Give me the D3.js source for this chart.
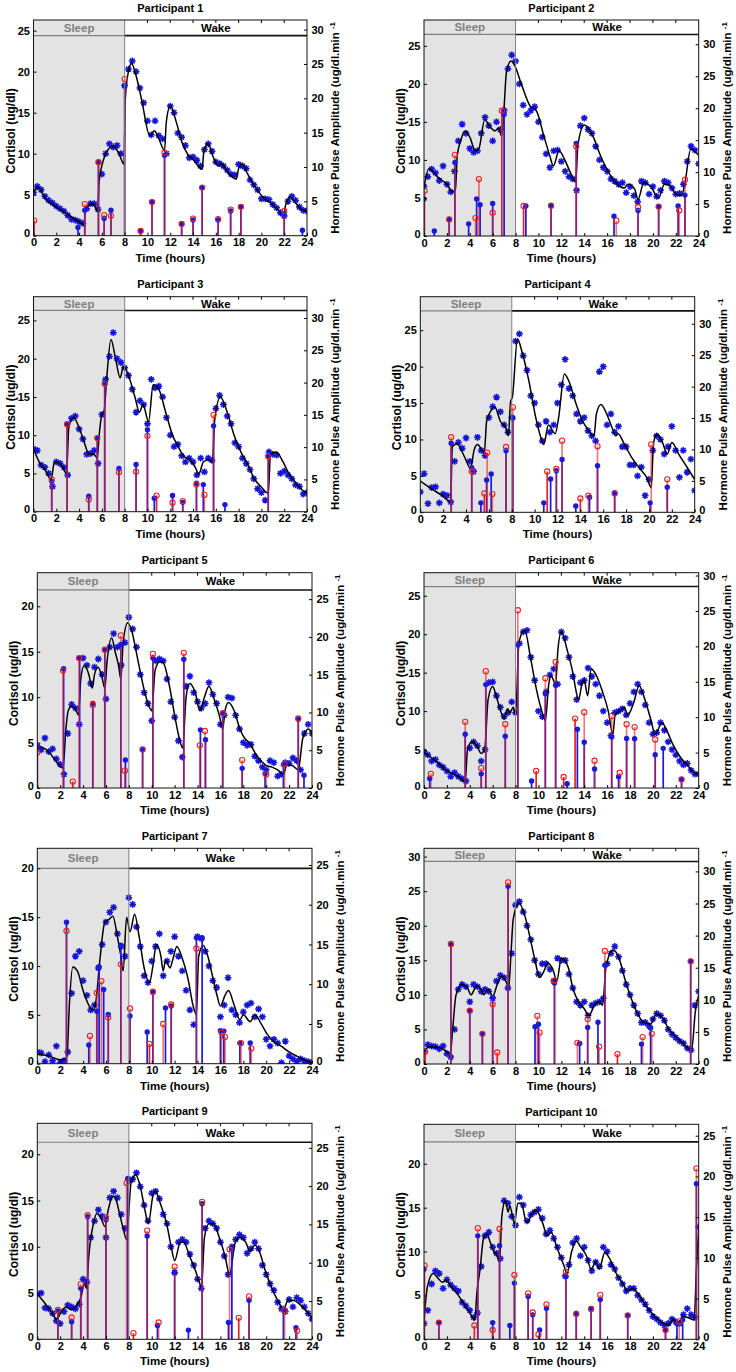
<!DOCTYPE html>
<html><head><meta charset="utf-8">
<script src="https://cdn.jsdelivr.net/npm/d3@7"></script>
<style>body{margin:0;background:#fff;} svg text{font-family:"Liberation Sans",Arial,Helvetica,sans-serif;font-weight:bold;}</style>
</head><body><svg id="c" width="736" height="1372"></svg>
<script>
// ---------------- DATA ----------------
const sampleStep = 1/3; // hours between cortisol samples (t = 0 .. 24)
const xTicks = [0,2,4,6,8,10,12,14,16,18,20,22,24];
const titles = ["Participant 1","Participant 2","Participant 3","Participant 4","Participant 5",
                "Participant 6","Participant 7","Participant 8","Participant 9","Participant 10"];
const leftTop   = [26.3,28.4,28.1,29.6,23.7,28.0,22.05,31.2,23.35,24.5];
const bandLevel = [24.4,26.5,26.3,27.65,21.8,26.2,20.0,29.3,21.3,22.5];
const rightTop  = [31.4,33.8,33.3,34.3,28.5,30.4,27.1,33.6,28.2,26.4];

// cortisol samples (ug/dl), blue stars
const cort1 = [5.3,6.0,5.6, 4.8,4.3,4.0, 3.6,3.3,3.0, 2.5,2.0,1.9, 1.7,1.5,3.3, 3.9,3.9,3.2, 7.5,10.0,11.2, 10.8,11.0,10.0,
  18.3,20.3,21.3, 20.0,18.0,16.2, 14.0,12.3,14.0, 12.2,11.8,10.0, 15.8,15.0,12.5, 12.0,11.0,9.5, 9.6,9.2,8.5, 10.5,11.2,10.3,
  9.0,8.8,8.5, 8.0,7.5,7.4, 8.7,8.5,8.2, 6.8,6.2,5.6, 4.5,4.5,4.4, 3.8,3.4,2.8, 2.4,4.2,4.8, 4.3,3.5,3.1, 3.0];
const cort2 = [6.5,7.8,8.8, 8.3,7.3,9.2, 6.8,5.8,8.5, 12.5,14.7,13.5, 11.5,11.0,11.2, 13.5,15.6,14.5, 12.5,15.0,14.0, 16.5,22.0,23.8,
  23.0,20.0,17.2, 16.0,16.5,17.0, 15.0,13.0,10.8, 9.0,11.2,11.3, 9.8,8.5,7.8, 7.5,6.0,14.5, 15.5,14.0,13.5, 11.8,10.0,9.0,
  8.5,7.5,7.2, 6.8,7.0,5.7, 6.5,5.3,4.5, 7.2,7.0,5.5, 6.5,5.2,6.0, 7.2,7.0,6.3, 5.5,5.6,6.8, 9.8,11.8,11.3, 9.5];
const cort3 = [8.2,8.0,6.1, 5.8,5.0,3.3, 6.5,6.3,5.8, 4.8,12.2,12.5, 10.8,9.5,7.5, 7.6,8.0,6.3, 12.7,17.3,20.3, 23.4,20.0,19.5,
  18.8,17.8,16.0, 13.0,14.5,14.0, 11.5,17.3,16.2, 16.4,15.0,12.3, 10.0,8.5,8.8, 7.3,6.5,7.0, 6.5,4.8,7.0, 5.2,7.0,6.7,
  13.5,15.2,14.0, 12.5,11.5,9.0, 8.5,7.0,6.3, 5.5,4.3,3.0, 2.5,1.5,7.8, 7.5,7.4,5.0, 5.3,4.8,4.3, 3.5,3.3,2.3, 2.5];
const cort4 = [2.8,5.3,1.2, 3.4,3.5,1.3, 2.5,2.3,1.4, 7.0,9.6,8.8, 10.2,7.0,5.6, 10.3,8.5,7.8, 13.0,14.5,15.8, 13.8,12.0,11.0,
  13.0,23.5,24.5, 21.5,19.5,16.0, 15.0,12.0,9.8, 12.5,11.0,12.0, 15.0,17.5,21.0, 17.0,16.0,13.5, 12.5,13.0,11.2, 10.5,9.8,19.3,
  20.0,12.0,13.5, 11.0,11.8,9.0, 9.0,6.5,6.5, 5.0,6.2,2.3, 4.5,8.5,10.5, 10.0,8.0,9.0, 11.8,8.5,4.8, 8.5,5.5,7.3, 3.0];
const cort5 = [4.6,4.2,5.5, 4.0,4.3,3.2, 2.6,1.5,6.0, 9.2,8.8,7.0, 14.3,13.5,11.5, 13.3,14.2,12.5, 9.8,15.5,17.0, 15.5,13.5,16.0,
  18.8,17.5,15.5, 12.5,10.5,9.3, 7.4,14.0,14.2, 14.0,12.0,9.5, 7.8,5.2,3.4, 11.2,12.3,10.5, 9.5,8.8,9.3, 11.6,10.3,9.3,
  7.0,8.0,10.0, 9.9,8.0,6.5, 5.0,4.7,4.8, 3.5,3.0,2.3, 2.0,3.0,2.8, 1.3,1.5,2.8, 2.7,3.3,3.0, 2.0,6.0,7.0, 6.0];
const cort6 = [4.7,4.3,3.5, 3.7,3.0,2.7, 2.2,1.5,2.0, 1.5,1.2,0.9, 5.2,6.0,5.5, 3.5,5.0,13.7, 13.8,12.0,10.5, 9.3,9.8,11.2,
  9.8,18.8,20.3, 20.5,17.0,14.0, 10.0,9.3,12.5, 14.7,15.5,13.5, 20.3,19.5,17.0, 14.5,11.5,13.7, 14.0,15.6,14.5, 13.5,12.0,10.0,
  8.5,6.8,9.8, 10.0,10.3,9.5, 11.0,12.5,13.5, 12.5,10.8,8.5, 7.0,7.2,8.5, 7.5,6.0,5.0, 4.3,3.5,3.0, 3.2,2.3,1.8, 1.8];
const cort7 = [1.2,1.1,0.2, 0.9,0.3,1.8, 0.1,0.3,1.2, 7.2,11.0,11.5, 8.5,7.0,5.5, 6.0,9.8,12.2, 14.5,15.5,16.0, 13.3,12.0,11.0,
  17.0,16.3,14.0, 12.0,9.0,8.3, 10.5,12.0,13.3, 9.0,10.5,11.5, 13.0,11.0,9.5, 7.5,5.5,4.0, 13.0,12.8,11.5, 10.0,8.5,7.8,
  4.8,6.0,8.8, 5.5,5.0,4.2, 5.3,6.0,6.2, 4.8,5.6,4.8, 2.5,1.8,2.5, 2.1,0.1,2.3, 0.8,0.5,0.2, 0.5,0.3,0.2, 0.1];
const cort8 = [1.8,2.8,2.6, 2.5,2.2,2.6, 1.5,1.0,5.0, 10.8,11.5,11.2, 9.0,11.5,11.2, 10.5,10.8,10.5, 9.5,12.0,12.8, 12.5,11.0,16.0,
  23.0,23.5,22.0, 20.0,18.0,15.0, 13.0,14.5,14.5, 13.7,12.0,15.3, 15.0,15.0,13.0, 11.0,9.0,8.5, 9.0,7.0,8.5, 8.8,9.0,9.5,
  14.5,16.0,17.0, 15.5,13.5,11.5, 10.0,8.5,7.3, 6.0,6.0,5.5, 6.5,7.3,7.0, 6.3,5.0,4.3, 3.8,3.3,3.0, 2.3,2.0,8.5, 10.5];
const cort9 = [4.9,5.0,3.4, 3.3,2.8,2.0, 1.7,3.0,3.7, 3.5,3.3,3.8, 6.5,6.2,11.0, 12.8,14.0,13.3, 11.0,15.3,16.0, 15.3,13.5,12.0,
  17.2,17.3,18.0, 16.5,14.5,12.8, 15.8,16.0,15.2, 13.5,12.5,10.0, 7.2,10.5,10.8, 10.5,9.2,8.0, 6.5,5.5,12.0, 12.8,12.5,12.0,
  10.5,9.0,7.0, 10.0,10.8,11.3, 11.0,9.3,9.8, 10.5,9.8,8.0, 7.0,6.0,5.3, 4.0,3.3,3.0, 4.3,3.5,4.5, 4.2,3.5,2.8, 2.2];
const cort10 = [1.8,3.3,6.3, 7.8,7.5,5.8, 6.8,6.2,5.8, 5.5,4.2,3.8, 3.3,2.5,3.0, 8.3,11.8,12.2, 10.5,9.8,9.2, 15.8,15.5,14.0,
  13.0,16.2,15.3, 13.5,14.2,14.5, 14.8,13.8,12.0, 12.4,11.5,10.5, 9.3,7.2,8.5, 11.0,11.5,9.5, 10.5,9.0,7.8, 8.8,8.3,10.5,
  10.0,8.5,8.0, 7.0,6.3,5.5, 5.8,5.8,5.0, 4.5,4.0,3.3, 2.6,2.3,1.9, 1.6,1.8,2.3, 2.0,1.8,2.8, 3.5,2.8,2.5, 12.8];

// fitted cortisol profile [hour, ug/dl], black line
const fit1 = [[0,5.3],[0.4,5.9],[1,4.6],[2,3.5],[3,2.6],[4,1.7],[4.45,1.3],[4.55,3.4],[5.2,3.9],[5.65,3.0],[5.75,6.5],[6.2,9.5],[6.6,10.6],[7.0,10.9],[7.5,10.0],[7.95,8.7],[8.05,16.5],[8.3,19.8],[8.6,21.0],[9.0,19.5],[9.5,16.5],[10.2,12.2],[10.6,12.8],[11.0,11.8],[11.5,10.4],[11.65,13.8],[12.0,15.8],[12.5,14.0],[13.0,11.5],[13.5,10.0],[14.0,9.3],[14.8,8.1],[14.95,10.3],[15.3,11.2],[15.8,9.5],[16.2,8.5],[16.5,8.8],[17.0,7.8],[17.8,6.9],[18.0,8.2],[18.3,8.7],[18.8,7.5],[19.3,6.3],[20.2,4.6],[21.0,3.8],[22.0,2.6],[22.1,3.6],[22.5,4.7],[23.0,4.0],[23.5,3.2],[24,3.0]];
const fit2 = [[0,6.3],[0.4,8.8],[1.3,7.6],[2.0,6.8],[2.5,5.8],[2.75,6.2],[2.9,10.5],[3.2,12.5],[3.6,13.8],[4.0,13.0],[4.5,11.2],[4.8,11.5],[5.3,15.3],[5.8,14.3],[6.2,13.8],[6.5,14.2],[6.8,13.1],[7.0,17],[7.2,21.5],[7.6,23.0],[7.9,22.5],[8.5,20.0],[9.3,17.0],[9.8,16.5],[10.5,13.0],[11.0,10.5],[11.3,9.2],[11.8,11.2],[12.3,10.0],[12.8,8.3],[13.25,7.1],[13.45,12.0],[14.0,14.6],[14.8,13.0],[15.3,11.0],[16.0,8.7],[16.6,7.3],[17.5,6.3],[17.8,6.8],[18.4,6.2],[18.7,4.8],[19.2,7.0],[19.8,6.5],[20.5,5.0],[21.0,6.8],[21.5,6.6],[22.0,5.5],[22.5,5.3],[22.8,7.0],[23.3,11.4],[24,10.6]];
const fit3 = [[0,8.2],[0.7,6.0],[1.0,5.5],[1.55,4.2],[1.8,6.3],[2.0,6.5],[2.5,6.0],[2.9,5.0],[3.1,11.0],[3.5,12.3],[4.0,11.0],[4.4,9.3],[4.9,7.5],[5.3,7.5],[5.6,7.0],[5.75,9.8],[6.0,12.7],[6.2,13.2],[6.4,17.0],[6.8,22.5],[7.2,20.0],[7.6,17.5],[7.9,19.0],[8.4,17.5],[8.9,15.0],[9.3,13.0],[9.6,14.0],[10.1,11.8],[10.5,16.6],[11.0,16.0],[11.6,13.0],[12.2,10.0],[12.7,8.5],[13.2,7.2],[13.7,6.8],[14.2,5.8],[14.5,4.9],[14.9,6.5],[15.3,6.8],[15.7,6.5],[15.9,12.0],[16.4,15.0],[17.0,13.0],[17.6,10.0],[18.3,7.5],[18.8,6.2],[19.3,4.5],[20.0,3.2],[20.6,2.4],[20.8,7.5],[21.3,7.8],[21.9,6.5],[22.4,5.0],[23.0,3.8],[23.6,2.8],[24,2.4]];
const fit4 = [[0,4.3],[1,3.2],[2,2.2],[2.65,1.4],[2.8,9.0],[3.2,9.4],[3.9,7.5],[4.4,6.0],[4.7,8.5],[5.0,9.3],[5.6,8.2],[5.8,12.5],[6.2,14.0],[6.5,14.5],[7.0,12.5],[7.5,11.5],[7.7,10.5],[7.9,15.2],[8.05,15.8],[8.5,23.8],[8.9,22.0],[9.5,18.0],[10.1,13.0],[10.6,10.0],[10.8,9.3],[11.2,12.0],[11.8,10.8],[12.1,13.0],[12.6,19.0],[13.0,18.0],[13.6,15.0],[14.2,12.5],[14.6,11.5],[15.2,10.5],[15.4,13.5],[15.8,14.8],[16.3,13.5],[16.8,11.5],[17.1,10.5],[17.3,10.8],[17.8,9.5],[18.5,7.5],[19.2,6.0],[19.8,4.8],[20.2,3.4],[20.4,9.5],[20.7,10.7],[21.2,9.5],[21.6,8.0],[22.0,9.6],[22.6,8.0],[23.2,6.5],[24,4.5]];
const fit5 = [[0,4.6],[0.4,4.5],[1.0,4.0],[1.6,3.0],[2.25,2.2],[2.5,6.5],[2.7,8.5],[3.0,9.0],[3.4,8.5],[3.6,8.0],[3.8,12.0],[4.1,13.5],[4.5,12.5],[4.8,11.0],[5.0,12.5],[5.3,13.3],[5.6,12.5],[5.9,11.0],[6.1,14.0],[6.5,16.5],[6.8,15.0],[7.1,13.5],[7.3,12.0],[7.5,16.0],[7.9,18.2],[8.2,17.5],[8.8,14.0],[9.3,11.0],[9.7,9.2],[10.0,8.5],[10.3,13.0],[10.7,13.9],[11.0,13.8],[11.5,11.5],[12.0,8.0],[12.4,5.5],[12.7,4.4],[13.0,10.0],[13.3,11.5],[13.8,10.5],[14.2,8.5],[14.6,10.0],[15.0,11.2],[15.4,10.0],[15.9,8.0],[16.2,6.5],[16.4,8.5],[16.7,9.4],[17.2,8.5],[17.7,6.5],[18.1,5.5],[18.5,5.0],[19.2,3.5],[20.0,2.5],[20.5,2.3],[21.0,2.0],[21.5,1.5],[21.8,2.5],[22.2,2.5],[22.8,2.0],[23.2,5.5],[23.7,6.5],[24,6.0]];
const fit6 = [[0,4.6],[0.6,4.0],[1.2,3.3],[1.8,2.5],[2.3,2.0],[3.0,1.5],[3.6,0.8],[3.8,5.0],[4.2,6.0],[4.6,5.5],[5.0,4.5],[5.3,5.0],[5.6,11.5],[6.0,13.2],[6.3,12.0],[6.7,10.0],[7.0,9.0],[7.3,10.3],[7.5,9.8],[7.8,10.5],[8.0,9.5],[8.3,19.0],[8.8,20.5],[9.3,17.0],[9.8,13.0],[10.2,10.5],[10.6,8.8],[10.9,13.5],[11.1,14.6],[11.5,13.5],[11.7,18.0],[12.0,20.3],[12.5,18.0],[13.0,15.0],[13.3,12.5],[13.5,11.5],[13.8,13.5],[14.0,14.0],[14.3,12.0],[14.6,15.5],[15.1,14.5],[15.6,12.5],[16.1,10.0],[16.5,7.0],[16.7,9.5],[17.1,10.0],[17.5,10.5],[17.8,9.5],[18.3,11.0],[18.8,13.3],[19.3,11.5],[19.8,9.0],[20.2,7.0],[20.8,8.5],[21.2,7.5],[21.8,5.5],[22.4,4.0],[23.0,3.0],[23.6,2.0],[24,1.8]];
const fit7 = [[0,1.0],[1.0,0.8],[2.0,0.4],[2.5,0.5],[2.6,0.8],[2.8,6.0],[3.1,9.9],[3.5,9.5],[4.0,7.5],[4.5,6.0],[4.9,5.5],[5.1,6.2],[5.5,11.0],[5.9,14.5],[6.3,14.8],[6.6,15.1],[7.0,13.0],[7.3,11.0],[7.5,9.5],[7.8,15.0],[8.1,13.5],[8.5,15.3],[8.9,13.0],[9.3,10.0],[9.8,8.3],[10.1,10.0],[10.4,12.2],[10.8,11.0],[11.0,9.5],[11.2,10.6],[11.6,9.8],[11.8,10.5],[12.2,12.0],[12.6,11.0],[13.2,8.5],[13.6,6.0],[13.9,5.0],[14.1,11.0],[14.5,12.1],[14.9,11.0],[15.3,9.0],[15.7,7.0],[16.0,5.9],[16.4,7.0],[16.7,7.5],[17.2,6.0],[17.7,4.5],[18.0,5.0],[18.6,4.3],[19.0,5.0],[19.6,4.0],[20.1,3.0],[20.6,2.3],[21.3,1.8],[22.0,1.2],[22.8,0.7],[23.5,0.3],[24,0.1]];
const fit8 = [[0,1.9],[0.5,2.5],[1.3,2.4],[1.8,2.0],[2.3,1.5],[2.5,5.0],[2.8,10.0],[3.3,11.5],[3.8,11.0],[4.1,10.0],[4.6,11.3],[5.0,10.8],[5.2,10.0],[5.6,10.8],[6.0,9.8],[6.4,11.5],[6.8,12.7],[7.2,11.8],[7.4,11.0],[7.6,16.0],[7.8,21.0],[8.3,23.3],[8.8,21.5],[9.3,18.0],[9.7,15.0],[10.1,12.5],[10.5,13.5],[10.8,14.6],[11.3,13.5],[11.6,12.0],[12.0,15.3],[12.6,14.0],[13.0,11.0],[13.5,9.0],[14.0,8.0],[14.4,7.0],[14.9,8.5],[15.3,9.0],[15.6,8.5],[15.9,14.0],[16.5,16.5],[17.0,15.5],[17.6,12.0],[18.1,9.5],[18.6,7.5],[19.2,6.0],[19.8,5.8],[20.3,7.2],[20.8,6.8],[21.4,5.0],[22.0,4.0],[22.6,3.0],[23.2,2.2],[23.4,2.3],[23.7,7.5],[24,10.0]];
const fit9 = [[0,4.9],[0.6,4.0],[1.2,3.0],[1.7,2.2],[2.1,3.0],[2.5,3.5],[3.0,3.2],[3.5,3.8],[3.8,4.5],[4.1,6.0],[4.3,5.5],[4.5,9.0],[4.9,12.5],[5.2,13.6],[5.6,13.0],[5.9,12.2],[6.2,14.0],[6.6,15.5],[6.9,15.0],[7.2,13.5],[7.5,12.0],[7.8,10.8],[8.2,17.0],[8.6,17.8],[9.0,16.5],[9.4,14.0],[9.7,12.5],[10.1,15.5],[10.3,16.0],[10.8,14.5],[11.3,12.5],[11.7,10.0],[12.0,8.5],[12.5,10.5],[12.8,10.5],[13.3,9.0],[13.8,7.5],[14.2,6.0],[14.35,5.5],[14.6,11.0],[15.0,12.5],[15.4,12.5],[15.9,11.0],[16.4,9.0],[16.8,7.0],[17.3,10.5],[17.7,11.0],[18.2,10.5],[18.6,9.5],[19.0,10.2],[19.4,9.5],[19.9,7.5],[20.5,5.5],[21.1,4.0],[21.5,3.2],[21.9,4.2],[22.4,4.2],[22.9,3.8],[23.4,3.2],[24,2.3]];
const fit10 = [[0,2.0],[0.3,6.0],[0.8,7.5],[1.2,7.0],[1.6,6.5],[1.9,6.7],[2.4,6.0],[3.0,5.0],[3.5,4.0],[4.0,3.0],[4.45,2.2],[4.6,5.0],[4.9,8.0],[5.2,11.5],[5.5,12.0],[5.8,11.0],[6.1,10.0],[6.4,9.5],[6.6,8.8],[6.8,14.0],[7.1,15.8],[7.35,14.5],[7.5,15.2],[7.9,13.2],[8.2,15.5],[8.5,15.5],[8.9,13.5],[9.05,13.3],[9.4,14.3],[9.8,14.7],[10.3,13.5],[10.8,11.8],[11.1,12.2],[11.6,10.5],[12.2,8.5],[12.5,7.5],[12.9,10.0],[13.3,11.2],[13.7,10.5],[14.2,9.5],[14.6,8.0],[15.0,8.8],[15.3,8.0],[15.8,9.9],[16.3,9.0],[16.8,7.5],[17.4,6.3],[17.8,5.5],[18.2,5.8],[18.7,5.2],[19.3,4.0],[19.9,3.0],[20.5,2.2],[21.0,1.8],[21.4,1.6],[21.8,2.3],[22.2,1.7],[22.6,2.6],[23.2,2.4],[23.6,2.2],[23.8,8.0],[24,12.5]];

// pulse amplitudes [hour, ug/dl.min-1]: red open circles
const red1 = [[0.05,2.2],[4.5,4.6],[5.7,10.7],[6.2,3.0],[6.8,2.9],[8.0,22.8],[9.4,0.7],[10.4,4.9],[11.5,12.1],[13.0,1.7],[14.0,2.5],[14.8,7.0],[16.2,2.4],[17.3,3.8],[18.2,4.2],[22.0,3.6]];
const red2 = [[0.05,7.1],[2.2,2.6],[2.7,12.7],[4.5,2.8],[4.8,8.9],[6.0,3.65],[6.8,19.6],[8.7,4.7],[11.1,4.75],[13.3,14.0],[16.8,2.4],[18.7,4.5],[20.5,4.6],[22.3,4.0],[22.8,8.8]];
const red3 = [[1.6,5.0],[2.95,13.55],[4.85,1.9],[5.6,11.4],[6.25,19.8],[7.5,6.1],[9.0,6.2],[10.0,11.75],[10.8,2.5],[12.2,1.4],[13.1,1.65],[14.3,4.2],[15.0,2.6],[15.8,15.0],[20.6,8.6]];
const red4 = [[2.7,11.95],[4.5,6.5],[5.6,3.0],[5.85,9.5],[6.3,2.9],[7.5,10.4],[8.1,16.7],[11.1,6.5],[11.9,6.9],[12.4,11.4],[14.0,2.2],[14.7,2.65],[15.5,10.5],[17.0,3.0],[20.2,10.8],[21.6,5.25]];
const red5 = [[0.0,4.7],[2.25,15.55],[3.1,0.85],[3.65,17.2],[4.85,11.0],[5.9,18.3],[7.3,20.2],[7.65,2.3],[9.2,5.1],[10.1,17.75],[12.8,17.9],[14.2,5.65],[14.65,7.55],[16.2,9.9],[17.9,3.7],[20.0,1.8],[21.6,3.2],[22.8,9.2]];
const red6 = [[0.6,2.0],[3.6,9.35],[5.0,2.8],[5.4,16.5],[7.1,9.0],[8.2,25.1],[9.8,2.4],[10.6,15.5],[11.5,17.8],[12.2,1.55],[13.2,9.8],[14.0,10.7],[14.9,3.85],[16.4,10.15],[17.1,2.15],[17.7,9.0],[18.4,8.6],[20.2,6.85],[22.5,1.2]];
const red7 = [[2.55,16.7],[4.6,3.5],[5.2,8.9],[5.6,10.4],[6.2,5.8],[7.3,12.5],[8.1,6.95],[9.8,2.5],[10.1,9.05],[11.0,5.0],[11.7,7.45],[13.9,14.5],[16.1,3.95],[16.4,3.35],[17.8,2.6],[18.7,1.9]];
const red8 = [[0.1,1.9],[2.35,18.7],[4.0,8.3],[5.1,4.7],[6.0,9.3],[6.4,1.8],[7.35,28.3],[9.9,7.5],[10.1,4.9],[11.4,13.0],[13.4,3.3],[14.3,7.0],[15.3,2.7],[15.8,17.6],[16.9,1.55],[19.1,4.2],[19.9,4.7],[23.3,16.0]];
const red9 = [[1.8,3.85],[3.0,2.85],[3.8,7.2],[4.4,16.2],[6.0,15.9],[7.8,20.4],[8.4,0.8],[9.6,14.2],[10.6,2.2],[12.0,9.5],[14.4,17.95],[16.8,11.75],[17.6,2.8],[18.5,5.6],[21.6,3.8],[22.7,1.1]];
const red10 = [[0.05,9.05],[1.3,2.05],[4.4,1.7],[4.7,13.65],[6.0,1.15],[6.6,13.55],[7.9,7.9],[9.1,5.65],[9.5,3.3],[10.0,0.6],[10.7,4.3],[12.4,8.3],[13.3,3.1],[14.6,3.7],[15.4,5.45],[17.8,2.95],[21.1,1.15],[22.3,2.2],[23.8,21.0]];

// pulse amplitudes [hour, ug/dl.min-1]: blue filled dots
const blue1 = [[3.9,1.2],[4.5,3.7],[5.7,10.7],[6.2,2.5],[6.8,3.7],[8.0,21.8],[9.4,0.7],[10.4,4.9],[11.5,11.7],[13.0,1.7],[14.0,2.3],[14.8,7.0],[16.2,2.3],[17.3,3.6],[18.2,4.2],[22.0,3.2],[23.6,0.8]];
const blue2 = [[0.0,5.8],[0.9,0.8],[2.2,2.6],[2.7,11.5],[3.9,1.9],[4.6,5.8],[4.9,4.9],[6.0,5.1],[7.0,19.0],[8.9,4.7],[11.1,4.75],[13.3,14.5],[16.6,3.1],[18.7,4.0],[20.5,4.6],[22.2,4.7],[22.8,6.4]];
const blue3 = [[1.6,4.7],[2.95,13.55],[4.85,2.4],[5.6,11.4],[6.25,20.0],[7.5,6.7],[9.0,7.3],[10.0,12.7],[10.6,2.1],[12.2,2.5],[13.1,1.45],[14.3,4.4],[14.9,4.2],[15.8,13.3],[16.8,1.1],[20.6,8.5]];
const blue4 = [[2.7,11.0],[4.5,7.1],[5.3,1.5],[5.8,5.15],[6.2,6.1],[7.5,9.8],[8.1,15.0],[10.8,1.5],[11.4,5.3],[11.9,6.6],[12.4,8.4],[13.6,1.0],[14.8,2.4],[15.5,7.4],[17.0,3.1],[20.1,1.5],[21.6,4.0]];
const blue5 = [[0.0,5.5],[2.3,15.8],[3.7,17.2],[4.85,11.2],[5.9,18.3],[7.3,19.0],[7.7,3.7],[9.2,5.1],[10.1,17.2],[12.8,17.05],[14.25,7.7],[14.7,6.4],[16.2,9.9],[17.9,2.6],[19.9,1.9],[21.5,3.1],[22.8,9.1],[23.3,1.7]];
const blue6 = [[0.5,1.35],[3.6,7.6],[5.0,2.0],[5.4,14.6],[7.1,7.3],[8.2,20.2],[9.4,1.0],[10.6,13.3],[11.5,14.5],[12.5,0.6],[13.4,8.3],[14.0,6.45],[14.9,2.7],[16.4,7.2],[17.0,1.6],[17.7,7.0],[18.4,6.95],[20.2,4.7],[20.9,5.6],[22.5,1.2]];
const blue7 = [[2.55,17.8],[4.5,2.35],[5.2,6.6],[5.4,12.2],[5.8,9.35],[6.2,6.2],[7.3,14.9],[8.1,6.0],[9.6,4.0],[10.1,9.0],[11.2,7.0],[11.7,7.25],[13.9,15.85],[14.4,15.85],[16.0,4.15],[16.3,4.1],[17.7,2.6],[18.6,2.6]];
const blue8 = [[2.35,18.6],[4.0,8.3],[5.1,4.7],[6.0,10.35],[7.35,27.7],[9.7,5.8],[10.0,6.2],[11.4,12.6],[13.6,3.2],[14.3,5.7],[15.2,6.5],[15.8,15.4],[19.0,3.1],[19.8,5.6],[23.3,16.0]];
const blue9 = [[1.8,3.7],[3.0,2.3],[3.8,6.65],[4.4,16.0],[6.0,15.6],[7.9,21.0],[9.6,13.5],[10.5,1.8],[12.0,8.8],[13.2,1.2],[14.4,17.7],[16.7,2.2],[17.0,11.75],[18.5,5.1],[21.5,3.8],[22.6,1.5]];
const blue10 = [[0.0,8.6],[1.3,2.05],[4.7,12.7],[6.0,2.05],[6.6,11.5],[7.5,1.7],[7.9,6.9],[9.1,5.25],[9.5,3.0],[10.1,1.15],[10.7,3.8],[12.4,7.7],[13.3,3.2],[14.6,3.8],[15.4,4.9],[17.8,2.9],[21.1,1.15],[22.1,1.9],[22.6,2.4],[23.8,19.1]];

const participants = [
  {cort:cort1, fit:fit1, red:red1, blue:blue1},
  {cort:cort2, fit:fit2, red:red2, blue:blue2},
  {cort:cort3, fit:fit3, red:red3, blue:blue3},
  {cort:cort4, fit:fit4, red:red4, blue:blue4},
  {cort:cort5, fit:fit5, red:red5, blue:blue5},
  {cort:cort6, fit:fit6, red:red6, blue:blue6},
  {cort:cort7, fit:fit7, red:red7, blue:blue7},
  {cort:cort8, fit:fit8, red:red8, blue:blue8},
  {cort:cort9, fit:fit9, red:red9, blue:blue9},
  {cort:cort10, fit:fit10, red:red10, blue:blue10}
];

// ---------------- LAYOUT ----------------
// plot boxes [x0, x1, y0, y1]
const boxes = [
  [33.5,307,20,235.7],[424,698.7,20,236],
  [33.5,307,296.7,511.7],[420.3,694.7,296.7,512.3],
  [37.3,312,572.7,788],[424,698.7,572.7,788],
  [37.3,312,848.3,1063.7],[424,698.7,848.3,1064],
  [37.3,312,1123.3,1339.3],[424,698.7,1124.3,1339.3]
];
const C_STAR = "#1414d6", C_BLUE = "#1a1ad8", C_RED = "#e62222";

const svg = d3.select("#c");

participants.forEach((p, i) => {
  const [x0,x1,y0,y1] = boxes[i];
  const x = d3.scaleLinear().domain([0,24]).range([x0,x1]);
  const yL = d3.scaleLinear().domain([0,leftTop[i]]).range([y1,y0]);
  const yR = d3.scaleLinear().domain([0,rightTop[i]]).range([y1,y0]);
  const g = svg.append("g");
  const yb = yL(bandLevel[i]);

  // sleep shading
  g.append("rect").attr("x",x(0)).attr("y",y0).attr("width",x(8)-x(0)).attr("height",y1-y0).attr("fill","#e3e3e3");

  const cid = "clip"+i;
  g.append("clipPath").attr("id",cid).append("rect").attr("x",x0).attr("y",y0).attr("width",x1-x0).attr("height",y1-y0);
  const dg = g.append("g").attr("clip-path",`url(#${cid})`);

  // stars
  const r=3.4, k=2.4;
  const starD = `M${-r},0H${r}M0,${-r}V${r}M${-k},${-k}L${k},${k}M${-k},${k}L${k},${-k}`;
  dg.selectAll("path.star").data(p.cort).join("path").attr("class","star")
    .attr("d",starD).attr("transform",(v,j)=>`translate(${x(j*sampleStep)},${yL(v)})`)
    .attr("stroke",C_STAR).attr("stroke-width",1.5).attr("fill","none");

  // fitted line
  dg.append("path").datum(p.fit)
    .attr("d", d3.line().x(d=>x(d[0])).y(d=>yL(d[1])).curve(d3.curveMonotoneX))
    .attr("fill","none").attr("stroke","#000").attr("stroke-width",1.5);

  // blue stems
  dg.selectAll("line.bs").data(p.blue).join("line").attr("class","bs")
    .attr("x1",d=>x(d[0])).attr("x2",d=>x(d[0])).attr("y1",yR(0)).attr("y2",d=>yR(d[1]))
    .attr("stroke",C_BLUE).attr("stroke-width",1.7);
  // red stems
  dg.selectAll("line.rs").data(p.red).join("line").attr("class","rs")
    .attr("x1",d=>x(d[0])).attr("x2",d=>x(d[0])).attr("y1",yR(0)).attr("y2",d=>yR(d[1]))
    .attr("stroke",C_RED).attr("stroke-width",1.7)
    .attr("stroke-opacity",d=>p.blue.some(b=>Math.abs(b[0]-d[0])<0.2)?0.6:1);
  // blue dots
  dg.selectAll("circle.bd").data(p.blue).join("circle").attr("class","bd")
    .attr("cx",d=>x(d[0])).attr("cy",d=>yR(d[1])).attr("r",2.7).attr("fill",C_BLUE);
  // red circles
  dg.selectAll("circle.rc").data(p.red).join("circle").attr("class","rc")
    .attr("cx",d=>x(d[0])).attr("cy",d=>yR(d[1])).attr("r",2.6).attr("fill","none")
    .attr("stroke",C_RED).attr("stroke-width",1.1);

  // sleep / wake strip
  g.append("line").attr("x1",x0).attr("x2",x(8)).attr("y1",yb).attr("y2",yb).attr("stroke","#808080").attr("stroke-width",1.2);
  g.append("line").attr("x1",x(8)).attr("x2",x1).attr("y1",yb).attr("y2",yb).attr("stroke","#111").attr("stroke-width",1.6);
  g.append("line").attr("x1",x(8)).attr("x2",x(8)).attr("y1",y0).attr("y2",y1).attr("stroke","#808080").attr("stroke-width",1);
  g.append("text").attr("x",(x(0)+x(8))/2).attr("y",(y0+yb)/2+4).attr("text-anchor","middle")
    .attr("font-size",11.5).attr("fill","#808080").text("Sleep");
  g.append("text").attr("x",(x(8)+x(24))/2).attr("y",(y0+yb)/2+4).attr("text-anchor","middle")
    .attr("font-size",11.5).attr("fill","#000").text("Wake");

  // axes
  const styleAxis = sel => {
    sel.attr("font-family",null);
    sel.select("path.domain").remove();
    sel.selectAll("text").attr("font-size",11).attr("fill","#000");
    sel.selectAll("line").attr("stroke","#000");
  };
  const leftAx = g.append("g").attr("transform",`translate(${x0},0)`)
    .call(d3.axisLeft(yL).tickValues(d3.range(0,leftTop[i]+1e-9,5)).tickSizeInner(-3).tickSizeOuter(0).tickPadding(3.5))
    .call(styleAxis);
  const rightAx = g.append("g").attr("transform",`translate(${x1},0)`)
    .call(d3.axisRight(yR).tickValues(d3.range(0,rightTop[i]+1e-9,5)).tickSizeInner(-3).tickSizeOuter(0).tickPadding(4.5))
    .call(styleAxis);
  // lift the "0" labels so they clear the time-axis labels at the corners
  leftAx.selectAll(".tick text").filter(d=>d===0).attr("y",-2.5);
  rightAx.selectAll(".tick text").filter(d=>d===0).attr("y",-2.5);
  g.append("g").attr("transform",`translate(0,${y1})`)
    .call(d3.axisBottom(x).tickValues(xTicks).tickSizeInner(-3).tickSizeOuter(0).tickPadding(3))
    .call(styleAxis);
  g.selectAll("line.topTick").data(xTicks.filter(t=>t>8 && t<24)).join("line").attr("class","topTick")
    .attr("x1",d=>x(d)).attr("x2",d=>x(d)).attr("y1",y0).attr("y2",y0+3).attr("stroke","#000");

  // box
  g.append("rect").attr("x",x0).attr("y",y0).attr("width",x1-x0).attr("height",y1-y0)
    .attr("fill","none").attr("stroke","#111").attr("stroke-width",1);

  // labels
  g.append("text").attr("x",(x0+x1)/2).attr("y",y0-8.5).attr("text-anchor","middle").attr("font-size",11).text(titles[i]);
  g.append("text").attr("x",(x0+x1)/2).attr("y",y1+26).attr("text-anchor","middle").attr("font-size",11.5).text("Time (hours)");
  const lx = x0-19, ly = (y0+y1)/2+3;
  g.append("text").attr("transform",`translate(${lx},${ly}) rotate(-90)`).attr("text-anchor","middle")
    .attr("font-size",12).text("Cortisol (ug/dl)");
  const rx = x1+32, ry = (y0+y1)/2;
  const rt = g.append("text").attr("transform",`translate(${rx},${ry}) rotate(-90)`).attr("text-anchor","middle")
    .attr("font-size",11.5);
  rt.append("tspan").text("Hormone Pulse Amplitude (ug/dl.min ");
  rt.append("tspan").attr("font-size",8).attr("dy",-4).text("-1");
});
</script>
</body></html>
